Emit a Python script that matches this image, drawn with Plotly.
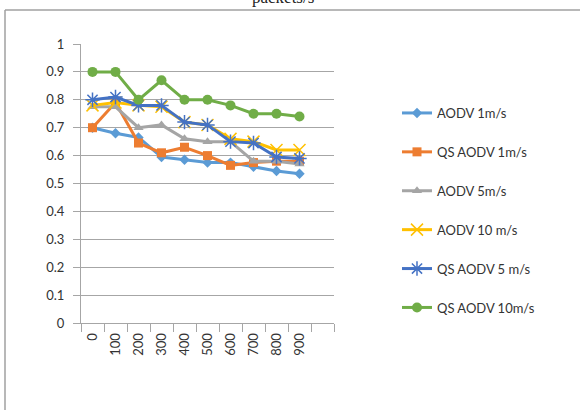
import plotly.graph_objects as go

categories = ["0", "100", "200", "300", "400", "500", "600", "700", "800", "900"]
aodv_1 = [0.70, 0.68, 0.665, 0.595, 0.585, 0.575, 0.575, 0.56, 0.545, 0.535]
qs_aodv_1 = [0.70, 0.79, 0.645, 0.61, 0.63, 0.60, 0.565, 0.575, 0.58, 0.58]
aodv_5 = [0.775, 0.775, 0.70, 0.71, 0.66, 0.65, 0.65, 0.58, 0.58, 0.57]
aodv_10 = [0.78, 0.79, 0.78, 0.775, 0.72, 0.71, 0.66, 0.65, 0.62, 0.62]
qs_aodv_5 = [0.80, 0.81, 0.78, 0.78, 0.72, 0.71, 0.65, 0.645, 0.595, 0.59]
qs_aodv_10 = [0.90, 0.90, 0.80, 0.87, 0.80, 0.80, 0.78, 0.75, 0.75, 0.74]

series = [
    ("AODV 1m/s", aodv_1, "#5B9BD5", "diamond", 8),
    ("QS AODV 1m/s", qs_aodv_1, "#ED7D31", "square", 9),
    ("AODV 5m/s", aodv_5, "#A5A5A5", "triangle-up", 9),
    ("AODV 10 m/s", aodv_10, "#FFC000", "x-thin-open", 12),
    ("QS AODV 5 m/s", qs_aodv_5, "#4472C4", "asterisk-open", 12),
    ("QS AODV 10m/s", qs_aodv_10, "#70AD47", "circle", 10),
]

W, H = 580, 410
L, R, T, B = 81, 334, 44, 323


def px(x):
    return (x - L) / (R - L)


def py(y):
    return (B - y) / (B - T)


xs = list(range(len(categories)))
fig = go.Figure()
for name, vals, color, sym, size in series:
    open_sym = sym.endswith("open")
    fig.add_trace(go.Scatter(
        x=xs, y=vals, name=name, mode="lines+markers",
        line=dict(color=color, width=3),
        marker=dict(symbol=sym, size=size, color=color,
                    line=dict(color=color, width=1.5 if open_sym else 0)),
        legendgroup=name,
    ))

grid = "#a6a6a6"
fig.update_layout(
    width=W, height=H,
    margin=dict(l=L, r=W - R, t=T, b=H - B, pad=0),
    paper_bgcolor="white", plot_bgcolor="white",
    font=dict(family="Lato, Open Sans, sans-serif", size=13, color="#333333"),
    showlegend=True,
    legend=dict(x=px(397), y=py(98), xanchor="left", yanchor="top",
                tracegroupgap=19, font=dict(size=13, color="#333333"),
                bgcolor="rgba(0,0,0,0)"),
    xaxis=dict(range=[-0.5, 10.5], tickvals=xs, ticktext=categories,
               tickangle=-90, ticks="", showgrid=False, zeroline=False,
               showline=True, linecolor=grid, linewidth=1,
               minor=dict(tick0=-0.5, dtick=1, ticks="outside", ticklen=8,
                          tickcolor=grid, tickwidth=1, showgrid=False),
               ticklabelstandoff=4,
               tickfont=dict(size=13, color="#333333")),
    yaxis=dict(range=[0, 1], dtick=0.1, tick0=0, showgrid=True, gridcolor=grid,
               gridwidth=1, zeroline=False, showline=True, linecolor=grid,
               linewidth=1, ticks="outside", ticklen=7, tickcolor=grid,
               ticklabelstandoff=6, tickfont=dict(size=13, color="#333333")),
    shapes=[
        dict(type="line", xref="paper", yref="paper", x0=px(5), x1=px(581),
             y0=py(10), y1=py(10), line=dict(color="#a0a0a0", width=1.5)),
        dict(type="line", xref="paper", yref="paper", x0=px(5), x1=px(5),
             y0=py(10), y1=py(411), line=dict(color="#a0a0a0", width=1.5)),
    ],
    annotations=[
        dict(text="packets/s", xref="paper", yref="paper", x=px(283), y=py(9),
             xanchor="center", yanchor="bottom", showarrow=False,
             font=dict(family="Liberation Serif", size=17, color="#222222")),
    ],
)

fig.write_html("out.html")
